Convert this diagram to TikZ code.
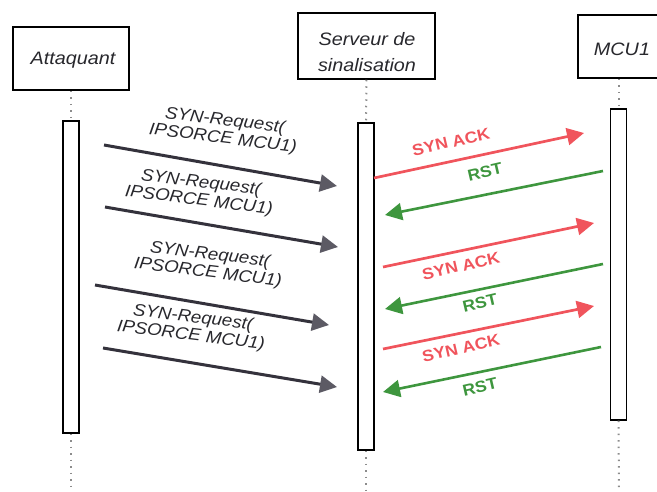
\documentclass[tikz,border=0pt]{standalone}
\usepackage{fontspec}
\setmainfont{Liberation Sans}[FakeStretch=1.1]
\usetikzlibrary{arrows.meta}

\definecolor{synred}{RGB}{240,84,92}
\definecolor{rstgreen}{RGB}{62,150,62}
\definecolor{reqgray}{RGB}{52,50,60}
\definecolor{headgray}{RGB}{92,90,100}
\definecolor{lifegray}{RGB}{140,140,140}
\definecolor{txtgray}{RGB}{40,40,45}

\tikzset{
  actor/.style={draw=black, line width=1.5pt, fill=white, inner sep=0pt},
  actortext/.style={font=\fontsize{18}{26}\selectfont\itshape, text=txtgray, align=center, inner sep=0pt},
  bar/.style={draw=black, line width=1.3pt, fill=white, inner sep=0pt, minimum width=16pt},
  lifeline/.style={draw=lifegray, line width=2pt, dash pattern=on 1.5pt off 5pt},
  reqarrow/.style={draw=reqgray, line width=3pt, -{Triangle[length=17pt,width=17pt,color=headgray]}},
  ackarrow/.style={draw=synred, line width=2.7pt, -{Triangle[length=17pt,width=17pt]}},
  rstarrow/.style={draw=rstgreen, line width=2.6pt, -{Triangle[length=17pt,width=17pt]}},
  reqlabel/.style={font=\fontsize{17}{18}\selectfont\itshape, text=txtgray, align=center, inner sep=0pt, rotate=-7},
  acklabel/.style={font=\fontsize{16}{18}\selectfont\bfseries, text=synred, inner sep=0pt, rotate=13},
  rstlabel/.style={font=\fontsize{16}{18}\selectfont\bfseries, text=rstgreen, inner sep=0pt, rotate=13},
}

\begin{document}
\begin{tikzpicture}[x=1pt, y=-1pt]
  \useasboundingbox (0,0) rectangle (657,491);
  \clip (0,0) rectangle (657,491);

  % participant boxes
  \node[actor, minimum width=116pt, minimum height=63pt] (att) at (71,58.5) {};
  \node[actortext] (attT) at (73,60) {Attaquant};
  \node[actor, minimum width=137pt, minimum height=66pt] (srv) at (366.5,46) {};
  \node[actortext] (srvT) at (367,52) {Serveur de\\sinalisation};
  \node[actor, minimum width=92pt, minimum height=63pt] (mcu) at (624,46.5) {};
  \node[actortext] (mcuT) at (622,49) {MCU1};

  % activation bars
  \node[bar, minimum height=312pt] (attB) at (71,277) {};
  \node[bar, minimum height=327pt] (srvB) at (366,286.5) {};
  \node[bar, minimum height=311pt] (mcuB) at (618.5,264.5) {};

  % lifelines
  \coordinate (attEnd) at (71,490);
  \coordinate (srvEnd) at (366,491);
  \coordinate (mcuEnd) at (619,491);
  \draw[lifeline] (att.south) -- (attB.north);
  \draw[lifeline] (attB.south) -- (attEnd);
  \draw[lifeline] (srv.south) -- (srvB.north);
  \draw[lifeline] (srvB.south) -- (srvEnd);
  \draw[lifeline] (mcu.south -| mcuB) -- (mcuB.north);
  \draw[lifeline] (mcuB.south) -- (mcuEnd);

  % message end points
  \coordinate (a1s) at (104,145); \coordinate (a1e) at (337,186);
  \coordinate (a2s) at (105,207); \coordinate (a2e) at (338,247);
  \coordinate (a3s) at (95,285);  \coordinate (a3e) at (329,325);
  \coordinate (a4s) at (103,348); \coordinate (a4e) at (337,387);
  \coordinate (r1s) at (374,178); \coordinate (r1e) at (584,133);
  \coordinate (r2s) at (383,267); \coordinate (r2e) at (594,223);
  \coordinate (r3s) at (383,349); \coordinate (r3e) at (594,306);
  \coordinate (g1s) at (603,171); \coordinate (g1e) at (385,215);
  \coordinate (g2s) at (603,264); \coordinate (g2e) at (385,309);
  \coordinate (g3s) at (601,347); \coordinate (g3e) at (383,392);

  % SYN requests from the attacker
  \draw[reqarrow] (a1s) -- (a1e);
  \draw[reqarrow] (a2s) -- (a2e);
  \draw[reqarrow] (a3s) -- (a3e);
  \draw[reqarrow] (a4s) -- (a4e);
  \node[reqlabel] (q1) at (224,130) {SYN-Request(\\IPSORCE MCU1)};
  \node[reqlabel] (q2) at (200,192) {SYN-Request(\\IPSORCE MCU1)};
  \node[reqlabel] (q3) at (209,264) {SYN-Request(\\IPSORCE MCU1)};
  \node[reqlabel] (q4) at (192,327) {SYN-Request(\\IPSORCE MCU1)};

  % SYN ACK replies and RST answers
  \draw[ackarrow] (r1s) -- (r1e);
  \draw[ackarrow] (r2s) -- (r2e);
  \draw[ackarrow] (r3s) -- (r3e);
  \draw[rstarrow] (g1s) -- (g1e);
  \draw[rstarrow] (g2s) -- (g2e);
  \draw[rstarrow] (g3s) -- (g3e);
  \node[acklabel] (k1) at (451,142) {SYN ACK};
  \node[acklabel] (k2) at (461,266) {SYN ACK};
  \node[acklabel] (k3) at (461,348) {SYN ACK};
  \node[rstlabel] (t1) at (485,172) {RST};
  \node[rstlabel] (t2) at (480,303) {RST};
  \node[rstlabel] (t3) at (480,387) {RST};
\end{tikzpicture}
\end{document}
